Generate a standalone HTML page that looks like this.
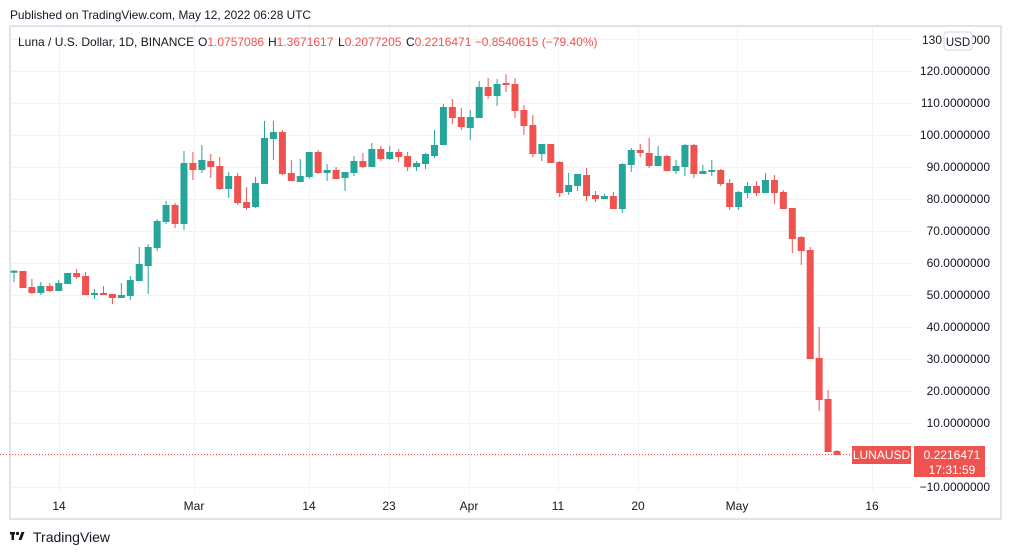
<!DOCTYPE html>
<html><head><meta charset="utf-8">
<style>
html,body{margin:0;padding:0;background:#fff;width:1012px;height:555px;overflow:hidden;font-family:"Liberation Sans","DejaVu Sans",sans-serif;}
</style></head>
<body>
<svg id="s" width="1012" height="555" xmlns="http://www.w3.org/2000/svg" style="position:absolute;left:0;top:0">
<text x="10" y="19" font-size="12" fill="#131722" font-family="Liberation Sans, sans-serif" textLength="301" lengthAdjust="spacingAndGlyphs">Published on TradingView.com, May 12, 2022 06:28 UTC</text>
<rect x="10" y="26" width="991" height="493" fill="#fff" stroke="#e0e3eb" stroke-width="2"/>
<g id="grid" stroke="#f0f3fa" stroke-width="1"></g>
<g id="candles"></g>
<line x1="0" y1="454.5" x2="860" y2="454.5" stroke="#ef5350" stroke-width="1" stroke-dasharray="1,2"/>
<g font-size="12" fill="#131722" font-family="Liberation Sans, sans-serif">
<text x="18" y="46">Luna / U.S. Dollar, 1D, BINANCE</text>
<text x="198" y="46">O<tspan fill="#ef5350">1.0757086</tspan></text>
<text x="268" y="46">H<tspan fill="#ef5350">1.3671617</tspan></text>
<text x="338" y="46">L<tspan fill="#ef5350">0.2077205</tspan></text>
<text x="406" y="46">C<tspan fill="#ef5350">0.2216471 −0.8540615 (−79.40%)</tspan></text>
</g>
<g id="yl" font-size="12" fill="#131722" font-family="Liberation Sans, sans-serif" text-anchor="end"></g>
<rect x="944" y="32" width="28" height="18" rx="3" fill="#fff" stroke="#d1d4dc"/>
<text x="958" y="46" font-size="11.5" text-anchor="middle" fill="#131722">USD</text>
<g id="xl" font-size="12" fill="#131722" text-anchor="middle" font-family="Liberation Sans, sans-serif"></g>
<rect x="852" y="446" width="59" height="18" fill="#ef5350"/>
<text x="881.5" y="459" font-size="12" fill="#fff" text-anchor="middle">LUNAUSD</text>
<rect x="914" y="446" width="71" height="31" fill="#ef5350"/>
<text x="952" y="459" font-size="12" fill="#fff" text-anchor="middle">0.2216471</text>
<text x="952" y="474" font-size="12" fill="#fff" text-anchor="middle">17:31:59</text>
<g transform="translate(10,531)">
<rect x="0" y="1" width="5" height="2.5" fill="#131722"/><rect x="1.5" y="1" width="2.5" height="8" fill="#131722"/>
<circle cx="7.5" cy="2.5" r="1.6" fill="#131722"/><polygon points="8.5,9 11.5,1 14.5,1 11.5,9" fill="#131722"/>
</g>
<text x="33" y="542" font-size="14" fill="#131722">TradingView</text>
</svg>
<script>
var d=[
[272.7,270.7,270,282],[271,288,271,288],[287,293,279,294],[293,286,282,295],[286,291,283,292],[291,283,280,291],[284,273,273,284],[273,277,269,279],[276,295,272,295],[295,293,289,299],
[293,295,286,295],[294,298,294,304],[298,295,283,298],[296,280,276,300],[281,264,247,281],[266,247,244,294],[248,221,219,251],[222,205,201,224],[205,224,203,228],[224,163,151,230],
[163,170,152,180],[170,160,145,173],[161,167,154,178],[166,189,157,190],[189,176,172,198],[176,203,173,205],[202,208,187,210],[207,183,177,208],[184,138,121,184],[139,132,121,160],
[132,174,130,175],[173,181,160,181],[182,176,159,182],[177,152,152,179],[152,173,150,174],[173,170,164,181],[170,179,167,179],[178,172,172,191],[173,161,156,176],[161,167,153,168],
[167,149,143,167],[149,159,146,161],[159,152,146,160],[152,157,149,162],[156,167,152,171],[167,163,161,171],[164,154,153,169],[156,145,130,158],[145,107,104,145],[107,118,99,124],
[117,127,108,130],[128,117,110,140],[118,87,81,118],[87,96,78,99],[96,84,79,106],[83,85,74,92],[84,111,78,118],[110,126,105,135],[125,154,115,157],[154,144,144,161],
[144,163,144,163],[162,193,161,197],[192,185,173,195],[186,174,174,191],[175,196,168,201],[195,199,191,202],[199,196,194,199],[196,209,192,209],[209,164,163,213],[165,150,148,172],
[150,153,144,157],[153,166,138,168],[166,156,146,166],[156,171,155,171],[171,166,160,174],[167,145,144,176],[145,174,144,178],[174,171,165,174],[172,170,160,176],[170,184,169,186],
[183,207,179,210],[207,192,191,210],[193,186,182,198],[186,193,181,196],[193,180,173,193],[180,193,175,204],[192,209,190,209],[208,239,208,253],[237,251,236,265],[250,359,247,359],
[358,400,327,411],[399,452,390,452],[451,455,450,455]];
var NS="http://www.w3.org/2000/svg";
function el(p,t,a,txt){var e=document.createElementNS(NS,t);for(var k in a)e.setAttribute(k,a[k]);if(txt)e.textContent=txt;p.appendChild(e);return e;}
var g=document.getElementById('grid'),c=document.getElementById('candles'),yl=document.getElementById('yl'),xl=document.getElementById('xl');
for(var k=0;k<=14;k++){var v=130-10*k,y=455-3.2*v;el(g,'line',{x1:11,x2:913,y1:y+0.5,y2:y+0.5});
 var t=v===0?null:(v<0?'−10.0000000':v+'.0000000');
 if(t&&v!==130)el(yl,'text',{x:990,y:y+4},t);}
el(yl,'text',{x:942,y:44},'130');el(yl,'text',{x:990,y:44},'000');
var xs=[[59,'14'],[194,'Mar'],[309,'14'],[389,'23'],[469,'Apr'],[558,'11'],[638,'20'],[737,'May'],[872,'16']];
xs.forEach(function(a){el(g,'line',{x1:a[0]+0.5,x2:a[0]+0.5,y1:27,y2:492});el(xl,'text',{x:a[0],y:510},a[1]);});
d.forEach(function(r,i){var x=14+i*8.946,o=r[0],cl=r[1],col=cl<=o?'#26a69a':'#ef5350';
 el(c,'rect',{x:(x-0.5).toFixed(2),y:r[2],width:1,height:Math.max(1,r[3]-r[2]),fill:col});
 var t=Math.min(o,cl),b=Math.max(o,cl);el(c,'rect',{x:(x-3.5).toFixed(2),y:t,width:7,height:Math.max(1.5,b-t),fill:col});});
</script>
</body></html>
